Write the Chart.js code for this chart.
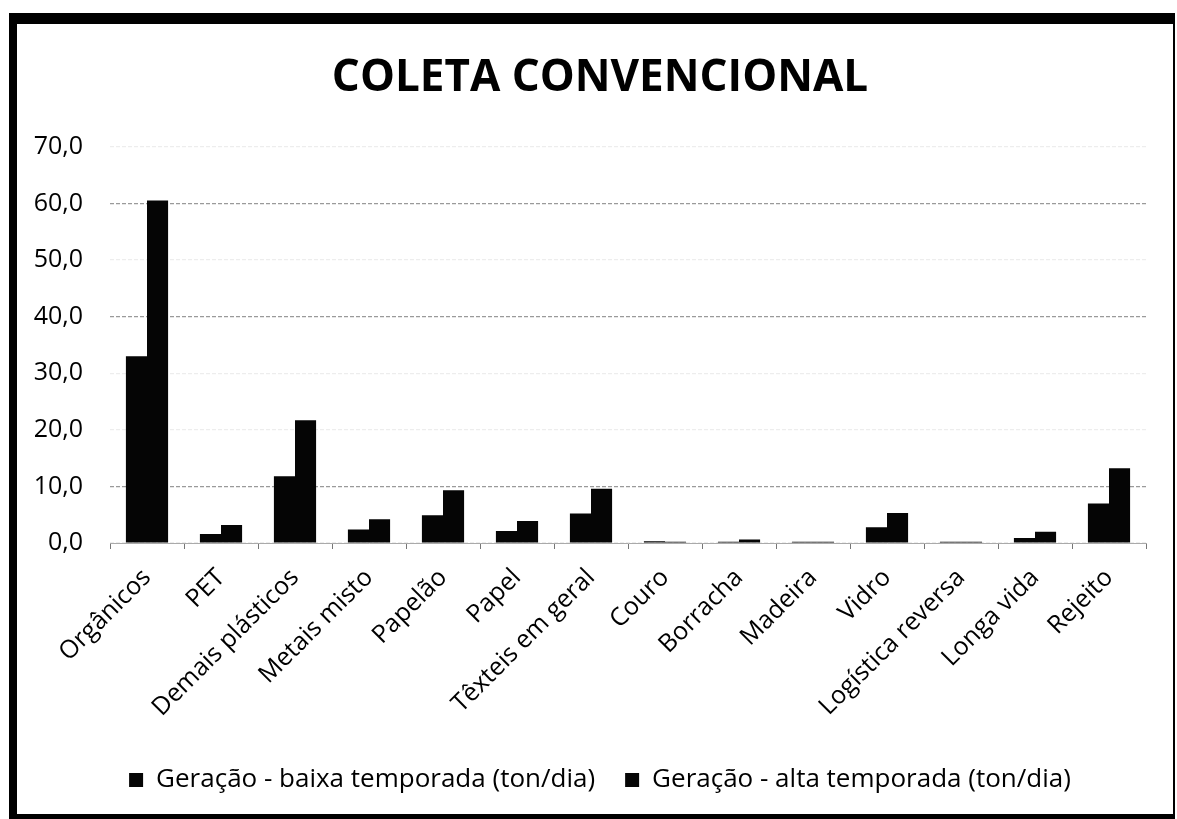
<!DOCTYPE html>
<html lang="pt">
<head>
  <meta charset="UTF-8">
  <title>Coleta convencional</title>
  <script src="https://cdn.jsdelivr.net/npm/chart.js@4.4.1/dist/chart.umd.min.js"></script>
  <style>
    html, body { margin: 0; padding: 0; background: #fff; }
    .frame { position: absolute; left: 9px; top: 13px; width: 1156px; height: 790px;
      border-left: 8px solid #000; border-top: 11px solid #000;
      border-right: 2px solid #000; border-bottom: 5px solid #000; }
    .frame canvas { display: block; }
  </style>
</head>
<body>
  <div class="frame">
    <canvas id="coleta" width="1156" height="790"></canvas>
  </div>

  <script>
    var categorias = ['Orgânicos', 'PET', 'Demais plásticos', 'Metais misto', 'Papelão', 'Papel',
      'Têxteis em geral', 'Couro', 'Borracha', 'Madeira', 'Vidro', 'Logística reversa', 'Longa vida', 'Rejeito'];
    var baixaTemporada = [33.0, 1.6, 11.8, 2.4, 4.9, 2.1, 5.2, 0.3, 0.2, 0.2, 2.8, 0.2, 0.9, 7.0];
    var altaTemporada  = [60.5, 3.2, 21.7, 4.2, 9.3, 3.9, 9.6, 0.2, 0.6, 0.2, 5.3, 0.2, 2.0, 13.2];
    var nomesSeries = ['Geração - baixa temporada (ton/dia)', 'Geração - alta temporada (ton/dia)'];
    var yTicks = [0, 10, 20, 30, 40, 50, 60, 70];

    var fonte = '"Open Sans", sans-serif';

    // linhas de grade que aparecem na digitalização
    function corGrade(ctx) {
      var v = ctx.tick && ctx.tick.value;
      if (v === 10 || v === 40 || v === 60) return '#9a9a9a';
      return 'rgba(0,0,0,0.07)';
    }

    var chart = new Chart(document.getElementById('coleta'), {
      type: 'bar',
      data: {
        labels: categorias,
        datasets: [
          { label: nomesSeries[0], data: baixaTemporada, backgroundColor: '#050505' },
          { label: nomesSeries[1], data: altaTemporada, backgroundColor: '#050505' }
        ]
      },
      options: {
        responsive: false,
        animation: false,
        layout: { padding: { left: 10, right: 0, top: 0, bottom: 11 } },
        datasets: { bar: { categoryPercentage: 0.57, barPercentage: 1.0 } },
        scales: {
          x: {
            grid: { drawOnChartArea: false, color: '#777', tickLength: 6 },
            border: { display: true, color: '#aaa', dash: [3, 2] },
            ticks: { color: '#000', font: { family: fonte, size: 25 }, minRotation: 45, maxRotation: 45, padding: 14 },
            afterFit: function (axis) { axis.paddingLeft = 0; axis.paddingRight = 27; axis.height = 194; }
          },
          y: {
            min: 0, max: 70,
            afterBuildTicks: function (axis) { axis.ticks = yTicks.map(function (v) { return { value: v }; }); },
            afterFit: function (axis) { axis.width = 83; },
            grid: { color: corGrade, drawTicks: false, lineWidth: 1.2 },
            border: { display: false, dash: [4, 2] },
            ticks: {
              color: '#000', padding: 27,
              font: { family: fonte, size: 25 },
              callback: function (v) { return v.toFixed(1).replace('.', ','); }
            }
          }
        },
        plugins: {
          title: {
            display: true, text: 'COLETA CONVENCIONAL', color: '#000',
            font: { family: fonte, size: 44, weight: 'bold' },
            padding: { top: 28, bottom: 42 }
          },
          legend: {
            position: 'bottom',
            labels: { color: '#000', boxWidth: 14, boxHeight: 14, padding: 30,
              font: { family: fonte, size: 26 } }
          },
          tooltip: { enabled: false }
        }
      }
    });
  </script>
</body>
</html>
